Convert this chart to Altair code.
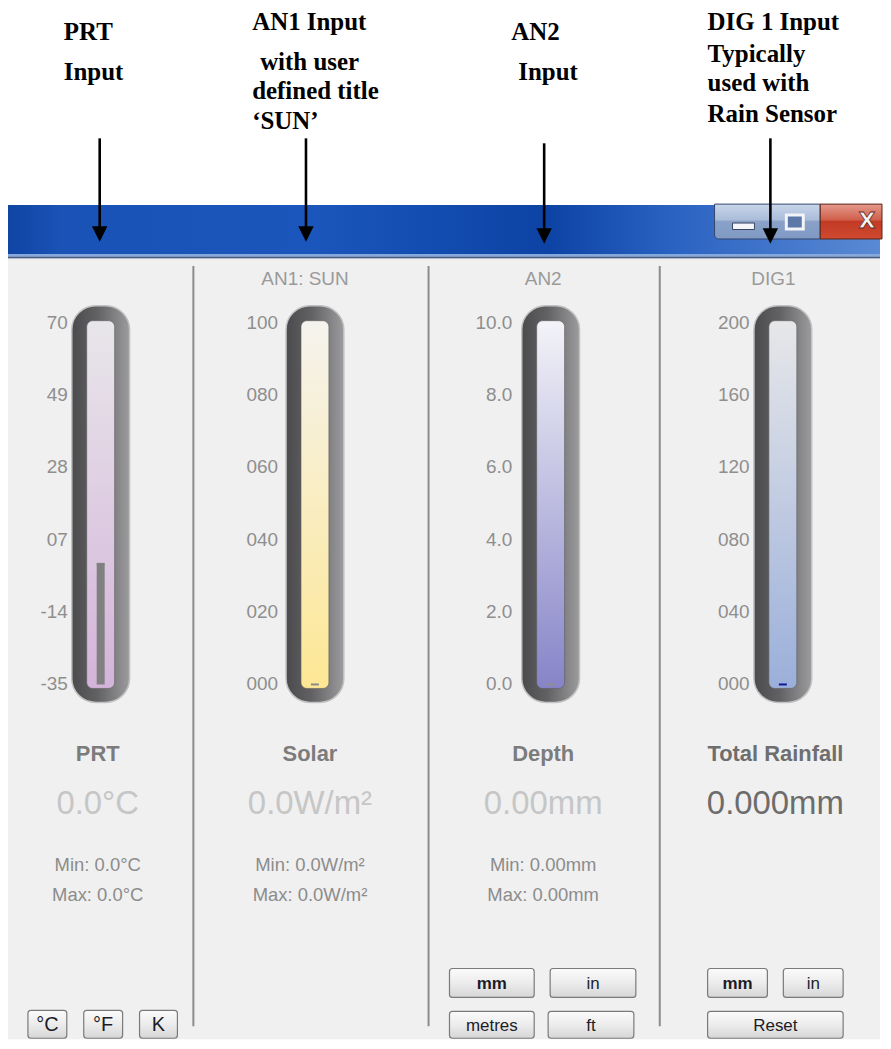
import altair as alt
import pandas as pd

# ---------------- data ----------------
annotations = [
    ["PRT", "Input"],
    ["AN1 Input", "with user", "defined title", "\u2018SUN\u2019"],
    ["AN2", "Input"],
    ["DIG 1 Input", "Typically", "used with", "Rain Sensor"],
]
panel_headers = ["", "AN1: SUN", "AN2", "DIG1"]
gauge_names = ["PRT", "Solar", "Depth", "Total Rainfall"]
prt_ticks = [-35, -14, 7, 28, 49, 70]
an1_ticks = [0, 20, 40, 60, 80, 100]
an2_ticks = [0.0, 2.0, 4.0, 6.0, 8.0, 10.0]
dig1_ticks = [0, 40, 80, 120, 160, 200]
tick_formats = ["02d", "03d", ".1f", "03d"]
readings = [0.0, 0.0, 0.0, 0.0]
value_labels = ["0.0°C", "0.0W/m²", "0.00mm", "0.000mm"]
min_labels = ["Min: 0.0°C", "Min: 0.0W/m²", "Min: 0.00mm", ""]
max_labels = ["Max: 0.0°C", "Max: 0.0W/m²", "Max: 0.00mm", ""]
prt_units = ["°C", "°F", "K"]
an2_units = ["mm", "in", "metres", "ft"]
dig1_units = ["mm", "in", "Reset"]

# ---------------- layout / style ----------------
OX, OY = 8, 8
W, H = 875, 1033
SANS = "Liberation Sans"
SERIF = "Liberation Serif"
ONE = pd.DataFrame({"k": [0]})
layers = []


def grad(stops, vertical=False):
    return alt.LinearGradient(
        gradient="linear",
        stops=[alt.GradientStop(color=c, offset=o) for o, c in stops],
        x1=0, x2=0 if vertical else 1, y1=0, y2=1 if vertical else 0,
    )


def rect(x1, y1, x2, y2, fill, stroke=None, sw=1.0, r=0, **kw):
    props = dict(fill=fill)
    if stroke:
        props.update(stroke=stroke, strokeWidth=sw)
    if r:
        props["cornerRadius"] = r
    props.update(kw)
    layers.append(alt.Chart(ONE).mark_rect(**props).encode(
        x=alt.value(x1 - OX), x2=alt.value(x2 - OX),
        y=alt.value(y1 - OY), y2=alt.value(y2 - OY)))


def label(s, x, y, size, color, weight="normal", font=SANS, align="center", **kw):
    if not s:
        return
    layers.append(alt.Chart(pd.DataFrame({"t": [s]})).mark_text(
        fontSize=size, color=color, fontWeight=weight, font=font,
        align=align, baseline="middle", **kw).encode(
        x=alt.value(x - OX), y=alt.value(y - OY), text="t:N"))


def vline(x, y1, y2, color, w):
    layers.append(alt.Chart(ONE).mark_rule(color=color, strokeWidth=w).encode(
        x=alt.value(x - OX), y=alt.value(y1 - OY), y2=alt.value(y2 - OY)))


def button(txt, x1, y1, x2, y2, size=17, weight="normal"):
    rect(x1, y1, x2, y2, grad([(0, "#fbfbfb"), (0.5, "#ececec"), (1, "#d6d6d6")], vertical=True),
         stroke="#7a7a7a", sw=1.2, r=3)
    label(txt, (x1 + x2) / 2, (y1 + y2) / 2 + 1, size, "#1c1c28", weight)


# white page
rect(OX, OY, OX + W, OY + H, "#ffffff")

# annotations + arrows
ann_x = [[64, 64], [253, 261, 253, 253], [513, 520], [710, 710, 710, 710]]
ann_y = [[30, 70], [20, 60, 90, 120], [30, 70], [20, 52, 82, 113]]
arrow_x = [100, 307, 546, 773]
arrow_top = [137, 137, 142, 137]
arrow_tip = [241, 241, 243, 243]

# title bar
rect(OX, 204, OX + W, 254, grad([(0, "#0f45a3"), (0.06, "#1a52b6"), (0.35, "#1b56bc"),
                                  (0.62, "#0c43a4"), (0.76, "#2a62c2"), (1, "#5a8ad4")]))
rect(OX, 253, OX + W, 255.5, "#86a8da")
rect(OX, 255.5, OX + W, 257.5, "#3e5b88")
rect(OX, 257.5, OX + W, 258.5, "#d2d2d2")
# window buttons
rect(717, 203, 823, 238, grad([(0, "#c9d6ea"), (0.45, "#a9bcd9"), (0.5, "#8aa2c8"), (1, "#7f99c4")], vertical=True),
     stroke="#34466a", sw=1, cornerRadiusBottomLeft=4)
rect(735, 222, 757, 228.5, "#f4f6fa", stroke="#3a4660", sw=1)
rect(789, 214, 806, 228, "#5b78a8", stroke="#f2f4f8", sw=3)
rect(823, 203, OX + W + 2, 238, grad([(0, "#e49a8c"), (0.45, "#d0604c"), (0.5, "#c23a24"), (1, "#cf4a30")], vertical=True),
     stroke="#5a2418", sw=1)
label("X", 870, 220, 22, "#f4f4f4", "bold", font="DejaVu Sans", stroke="#6a2a20", strokeWidth=0.8)

for i, lines in enumerate(annotations):
    for j, s in enumerate(lines):
        label(s, ann_x[i][j], ann_y[i][j], 25, "#000000", "bold", font=SERIF, align="left")
    vline(arrow_x[i], arrow_top[i], arrow_tip[i] - 10, "#000000", 2.6)
    layers.append(alt.Chart(ONE).mark_point(
        shape="M-1,-1L1,-1L0,1Z", filled=True, size=240, color="#000000", opacity=1).encode(
        x=alt.value(arrow_x[i] - OX), y=alt.value(arrow_tip[i] - 8 - OY)))

# body
rect(OX, 258.5, OX + W, OY + H, "#f0f0f0")

# panel dividers
for xd in [194, 430, 662]:
    vline(xd, 265, 1028, "#8c8c8c", 2)

gauge_cx = [101, 316, 552.5, 785.5]
label_right = [68, 279, 514, 752]
header_x = [98, 306, 545, 776]
name_x = [98, 311, 545, 778]
inner_cols = [("#e8e6ea", "#d4b4da"), ("#f5f3ee", "#fde794"), ("#f3f3f8", "#8684c8"), ("#e7e7e9", "#9aafda")]
marker_cols = ["#808080", "#8a8a8a", "#8f8f8f", "#10189a"]
value_cols = ["#c6c6c6", "#c6c6c6", "#c6c6c6", "#6c6c6c"]
name_cols = ["#7c7c7c", "#7c7c7c", "#7c7c7c", "#6e6e6e"]
tick_sets = [prt_ticks, an1_ticks, an2_ticks, dig1_ticks]

for i in range(4):
    c = gauge_cx[i]
    ticks = tick_sets[i]
    label(panel_headers[i], header_x[i], 278, 19, "#9a9a9a")
    # tube
    rect(c - 29, 305, c + 29, 703, grad([(0, "#4b4b4d"), (0.45, "#626264"), (1, "#9c9c9e")]),
         stroke="#c2c2c2", sw=1.5, r=24)
    rect(c - 14, 320, c + 14, 689, grad([(0, inner_cols[i][0]), (1, inner_cols[i][1])], vertical=True),
         stroke="#5c5c5c", sw=0.6, r=6)
    sc = alt.Scale(domain=[ticks[0], ticks[-1]], range=[685 - OY, 322 - OY], zero=False, nice=False)
    layers.append(alt.Chart(pd.DataFrame({"v": ticks})).transform_calculate(
        lab="replace(format(datum.v, '%s'), '\u2212', '-')" % tick_formats[i]
    ).mark_text(
        align="right", baseline="middle", font=SANS, fontSize=19, color="#8e8e8e").encode(
        x=alt.value(label_right[i] - OX),
        y=alt.Y("v:Q", scale=sc, axis=None),
        text="lab:N"))
    rd = pd.DataFrame({"v": [readings[i]], "lo": [ticks[0]]})
    layers.append(alt.Chart(rd).mark_rect(color=marker_cols[i]).encode(
        x=alt.value(c - 4 - OX), x2=alt.value(c + 4 - OX),
        y=alt.Y("v:Q", scale=sc, axis=None), y2="lo:Q"))
    layers.append(alt.Chart(rd).mark_rule(color=marker_cols[i], strokeWidth=2).encode(
        x=alt.value(c - 4 - OX), x2=alt.value(c + 4 - OX),
        y=alt.Y("v:Q", scale=sc, axis=None)))
    # readouts
    label(gauge_names[i], name_x[i], 755, 22, name_cols[i], "bold")
    label(value_labels[i], name_x[i], 805, 33, value_cols[i])
    label(min_labels[i], name_x[i], 866, 18.5, "#8c8c8c")
    label(max_labels[i], name_x[i], 896, 18.5, "#8c8c8c")

# unit buttons
for t, (x1, x2) in zip(prt_units, [(28, 67), (84, 123), (140, 178)]):
    button(t, x1, 1012, x2, 1040, size=20, weight="normal")
an2_pos = [(451, 970, 536, 999), (552, 970, 638, 999), (451, 1013, 536, 1040), (550, 1013, 636, 1040)]
for t, (x1, y1, x2, y2) in zip(an2_units, an2_pos):
    button(t, x1, y1, x2, y2, weight="bold" if t == "mm" else "normal")
dig_pos = [(710, 970, 770, 999), (786, 970, 846, 999), (710, 1013, 846, 1040)]
for t, (x1, y1, x2, y2) in zip(dig1_units, dig_pos):
    button(t, x1, y1, x2, y2, weight="bold" if t == "mm" else "normal")

chart = alt.layer(*layers).resolve_scale(y="independent").properties(
    width=W, height=H, padding=0, background="#ffffff"
).configure_view(stroke=None)

chart.save("out.html", embed_options={"renderer": "svg", "actions": False})
